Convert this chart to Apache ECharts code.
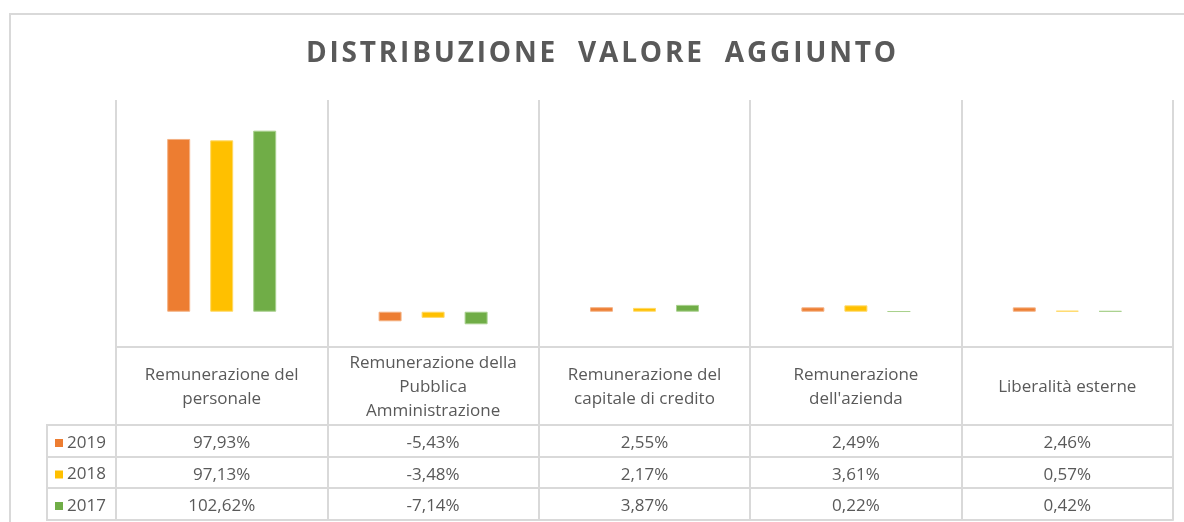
<!DOCTYPE html>
<html>
<head>
<meta charset="utf-8">
<script src="https://cdn.jsdelivr.net/npm/echarts@6/dist/echarts.min.js"></script>
<style>
  html, body { margin: 0; padding: 0; background: #fff; }
  #main { width: 1184px; height: 522px; }
</style>
</head>
<body>
<div id="main"></div>
<script>
// voci della distribuzione del valore aggiunto
const categories = [
  'Remunerazione del\npersonale',
  'Remunerazione della\nPubblica\nAmministrazione',
  'Remunerazione del\ncapitale di credito',
  'Remunerazione\ndell\'azienda',
  'Liberalità esterne'
]
const years = ['2019', '2018', '2017']
const v2019 = [97.93, -5.43, 2.55, 2.49, 2.46]
const v2018 = [97.13, -3.48, 2.17, 3.61, 0.57]
const v2017 = [102.62, -7.14, 3.87, 0.22, 0.42]
const colors = ['#ED7D31', '#FFC000', '#70AD47']
const borders = ['#F4B183', '#FFD966', '#A9D18E']

const rows = [v2019, v2018, v2017]
const fmt = v => v.toFixed(2).replace('.', ',') + '%'
const gridColor = '#d9d9d9'
const textColor = '#595959'
const font = 'Open Sans'
// titolo spaziato (hair space tra le lettere)
const titleText = 'DISTRIBUZIONE  VALORE  AGGIUNTO'.split('').join('\u200A')

let chart = echarts.init(document.getElementById('main'))

// assi extra usati come righe della tabella dati
let rowAxes = rows.map((vals, i) => ({
  type: 'category',
  data: categories,
  position: 'bottom',
  offset: [78, 110, 141][i],
  axisLine: { onZero: false, lineStyle: { color: gridColor, width: 2 } },
  axisTick: { show: false },
  axisLabel: {
    interval: 0,
    margin: 18,
    verticalAlign: 'middle',
    color: textColor,
    fontFamily: font,
    fontSize: 17,
    formatter: (val, idx) => fmt(vals[idx])
  }
}))

chart.setOption({
  title: {
    text: titleText,
    left: 596,
    textAlign: 'center',
    top: 35,
    textStyle: { fontFamily: font, fontWeight: 'bold', fontSize: 28, color: textColor }
  },
  legend: {
    data: years,
    orient: 'vertical',
    left: 55,
    top: 433,
    padding: 0,
    icon: 'rect',
    itemWidth: 8,
    itemHeight: 8,
    itemGap: 11.5,
    selectedMode: false,
    itemStyle: { borderWidth: 0 },
    textStyle: { fontFamily: font, fontSize: 17, color: textColor, lineHeight: 20, padding: [0, 0, 0, -1] }
  },
  grid: { left: 116, right: 11, top: 100, bottom: 175 },
  xAxis: [
    {
      type: 'category',
      data: categories,
      position: 'bottom',
      axisLine: { onZero: false, lineStyle: { color: gridColor, width: 2 } },
      axisTick: { show: true, length: 173, lineStyle: { color: gridColor, width: 2 } },
      splitLine: { show: true, lineStyle: { color: gridColor, width: 2 } },
      axisLabel: {
        interval: 0,
        margin: 40,
        verticalAlign: 'middle',
        lineHeight: 24,
        color: textColor,
        fontFamily: font,
        fontSize: 17
      }
    },
    ...rowAxes,
    {
      type: 'category',
      data: categories,
      position: 'bottom',
      offset: 173,
      axisLine: { onZero: false, lineStyle: { color: gridColor, width: 2 } },
      axisTick: { show: false },
      axisLabel: { show: false }
    }
  ],
  yAxis: {
    type: 'value',
    min: -20,
    max: 120,
    show: false,
    splitLine: { show: false }
  },
  graphic: [
    // bordo esterno del grafico
    { type: 'rect', shape: { x: 10, y: 14, width: 1300, height: 700 }, style: { fill: null, stroke: gridColor, lineWidth: 2 }, silent: true },
    // colonna legenda della tabella
    { type: 'line', shape: { x1: 47, y1: 425, x2: 47, y2: 520 }, style: { stroke: gridColor, lineWidth: 2 } },
    { type: 'line', shape: { x1: 46, y1: 425, x2: 117, y2: 425 }, style: { stroke: gridColor, lineWidth: 2 } },
    { type: 'line', shape: { x1: 46, y1: 457, x2: 117, y2: 457 }, style: { stroke: gridColor, lineWidth: 2 } },
    { type: 'line', shape: { x1: 46, y1: 488, x2: 117, y2: 488 }, style: { stroke: gridColor, lineWidth: 2 } },
    { type: 'line', shape: { x1: 46, y1: 520, x2: 117, y2: 520 }, style: { stroke: gridColor, lineWidth: 2 } }
  ],
  series: rows.map((vals, i) => ({
    name: years[i],
    type: 'bar',
    data: vals,
    barWidth: 23,
    barGap: '87%',
    itemStyle: { color: colors[i], borderColor: borders[i], borderWidth: 1 }
  }))
})
</script>
</body>
</html>
